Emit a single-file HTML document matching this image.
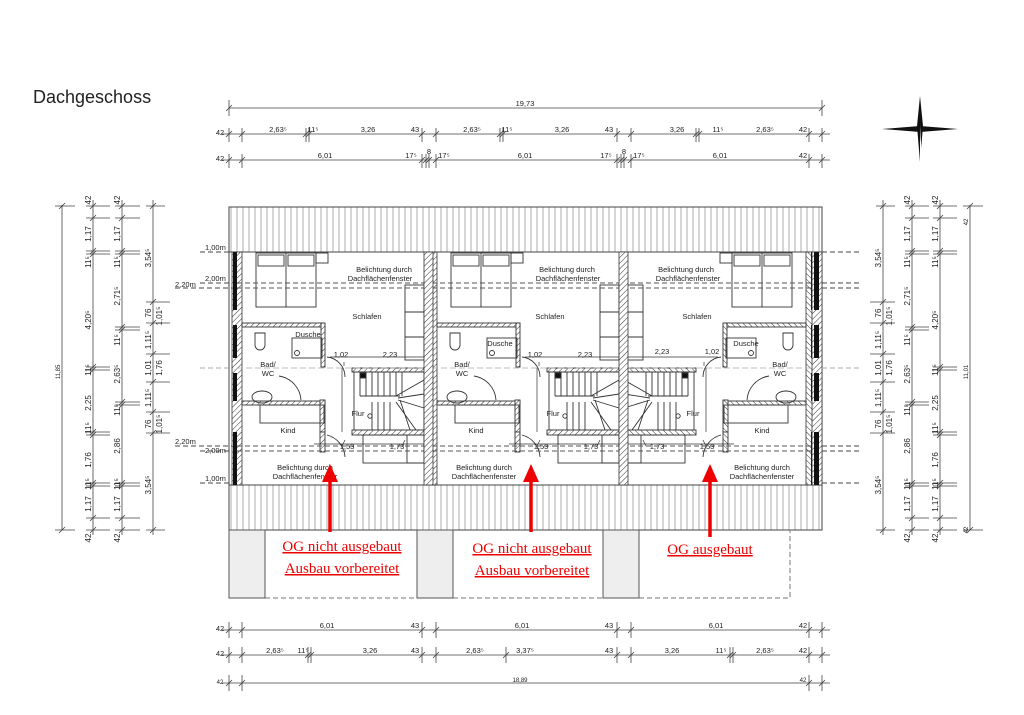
<!DOCTYPE html>
<html><head><meta charset="utf-8"><style>
html,body{margin:0;padding:0;background:#fff;width:1024px;height:715px;overflow:hidden}
svg{display:block}
text{font-family:"Liberation Sans",sans-serif;fill:#222}
.s{font-size:7.5px}
.m{font-size:8px}
.r{font-family:"Liberation Serif",serif;fill:#e00;font-size:15px;text-decoration:underline}
</style></head><body>
<svg width="1024" height="715" viewBox="0 0 1024 715" xmlns="http://www.w3.org/2000/svg">
<defs>
<pattern id="vh" width="6" height="10" patternUnits="userSpaceOnUse"><rect width="6" height="10" fill="#fff"/><line x1="3" y1="0" x2="3" y2="10" stroke="#999" stroke-width="0.8"/></pattern>
<pattern id="dh" width="4" height="4" patternUnits="userSpaceOnUse" patternTransform="rotate(45)"><rect width="4" height="4" fill="#fff"/><line x1="0" y1="0" x2="0" y2="4" stroke="#333" stroke-width="1"/></pattern>
<g id="unit">
 <!-- outer wall -->
 <rect x="232" y="252" width="10" height="233" fill="url(#dh)" stroke="#333" stroke-width="0.8"/>
 <rect x="233" y="252" width="4" height="58" fill="#111"/>
 <rect x="233" y="325" width="4" height="33" fill="#111"/>
 <rect x="233" y="373" width="4" height="28" fill="#111"/>
 <rect x="233" y="432" width="4" height="53" fill="#111"/>
 <!-- bed -->
 <g fill="none" stroke="#333" stroke-width="0.9">
 <rect x="256" y="253" width="60" height="54"/>
 <line x1="286" y1="253" x2="286" y2="307"/>
 <rect x="258" y="255" width="26" height="11"/><rect x="288" y="255" width="26" height="11"/>
 <rect x="316" y="253" width="12" height="10"/>
 <!-- bath walls -->
 <rect x="242" y="323" width="83" height="4" fill="url(#dh)"/>
 <rect x="321" y="323" width="4" height="44" fill="url(#dh)"/>
 <rect x="242" y="401" width="83" height="4" fill="url(#dh)"/>
 <rect x="320" y="400" width="5" height="32" fill="url(#dh)"/>
 <rect x="320" y="432" width="5" height="20" fill="url(#dh)"/>
 <rect x="292" y="338" width="30" height="20"/>
 <circle cx="297" cy="353" r="2.5"/>
 <path d="M255 333 v12 a5 5 0 0 0 10 0 v-12 z"/>
 <ellipse cx="262" cy="397" rx="10" ry="6"/>
 <path d="M301 400 a26 26 0 0 0 -22 -24"/>
 <rect x="260" y="405" width="64" height="18"/>
 <!-- doors -->
 <path d="M327 357 a20 20 0 0 1 18 20"/>
 <path d="M327 435 a24 24 0 0 1 18 22"/>
 <!-- stairs -->
 <rect x="352" y="368" width="72" height="4" fill="url(#dh)"/>
 <rect x="354" y="372" width="70" height="58"/>
 <path d="M360 372v24M366 372v24M372 372v24M378 372v24M384 372v24M390 372v24M396 372v24M402 372v24 M360 396h40 M372 402v28M378 402v28M384 402v28M390 402v28 M396 396l28 -16M398 398l26 -4M398 400l26 8M396 402l20 28M400 400l10 30"/>
 <rect x="360" y="373" width="6" height="5" fill="#111"/>
 <circle cx="370" cy="416" r="2.2"/>
 <rect x="352" y="430" width="72" height="5" fill="url(#dh)"/>
 <rect x="363" y="435" width="61" height="28"/>
 <rect x="407" y="435" width="17" height="28"/>
 <!-- cabinet -->
 <rect x="405" y="285" width="19" height="75"/>
 <line x1="405" y1="312" x2="424" y2="312"/><line x1="405" y1="337" x2="424" y2="337"/>
 </g>
 <g stroke="#333" stroke-width="0.7" fill="none">
 <path d="M330 357 H424 M344 362 V366"/>
 <path d="M314 444 H424 M345 440l-3 6 M405 440l-3 6"/>
 <path d="M342 368 V432"/>
 </g>
 <g stroke="#555" stroke-width="0.9" stroke-dasharray="5,3" fill="none">
 <path d="M237 283 H424 M237 288 H424 M237 446 H424 M237 451 H424"/>
 </g>
 <path d="M237 368 H424" stroke="#aaa" stroke-width="0.8" stroke-dasharray="6,3" fill="none"/>
</g>
</defs>

<text x="33" y="103" style="font-size:18px">Dachgeschoss</text>

<!-- roof bands -->
<rect x="229" y="207" width="593" height="45" fill="url(#vh)" stroke="#444" stroke-width="1"/>
<rect x="229" y="485" width="593" height="45" fill="url(#vh)" stroke="#444" stroke-width="1"/>
<rect x="229" y="252" width="593" height="233" fill="#fff" stroke="#444" stroke-width="1"/>

<use href="#unit"/>
<use href="#unit" transform="translate(195,0)"/>
<use href="#unit" transform="matrix(-1,0,0,1,1048,0)"/>
<rect x="424" y="252" width="9" height="233" fill="url(#dh)" stroke="#333" stroke-width="0.8"/>
<rect x="619" y="252" width="9" height="233" fill="url(#dh)" stroke="#333" stroke-width="0.8"/>
<rect x="812" y="252" width="10" height="233" fill="url(#dh)" stroke="#333" stroke-width="0.8"/>
<rect x="814" y="252" width="5" height="58" fill="#111"/><rect x="814" y="325" width="5" height="33" fill="#111"/><rect x="814" y="373" width="5" height="28" fill="#111"/><rect x="814" y="432" width="5" height="53" fill="#111"/>

<!-- level lines outside -->
<g stroke="#444" stroke-width="0.9" stroke-dasharray="5,3" fill="none">
<path d="M200 252H232 M200 283H232 M175 288H232 M175 446H232 M200 451H232 M200 483H232"/>
<path d="M822 252H860 M822 283H860 M822 288H860 M822 446H860 M822 451H860 M822 483H860"/>
<path d="M200 368H232 M822 368H860" stroke="#aaa"/>
</g>
<g class="s"><text x="205" y="250">1,00m</text><text x="205" y="281">2,00m</text><text x="175" y="287">2,20m</text><text x="175" y="444">2,20m</text><text x="205" y="453">2,00m</text><text x="205" y="481">1,00m</text></g>

<!-- room labels -->
<g class="s" text-anchor="middle">
<text x="384" y="272">Belichtung durch</text><text x="380" y="281">Dachflächenfenster</text>
<text x="567" y="272">Belichtung durch</text><text x="568" y="281">Dachflächenfenster</text>
<text x="686" y="272">Belichtung durch</text><text x="688" y="281">Dachflächenfenster</text>
<text x="305" y="470">Belichtung durch</text><text x="305" y="479">Dachflächenfenster</text>
<text x="484" y="470">Belichtung durch</text><text x="484" y="479">Dachflächenfenster</text>
<text x="762" y="470">Belichtung durch</text><text x="762" y="479">Dachflächenfenster</text>
<text x="367" y="319">Schlafen</text><text x="550" y="319">Schlafen</text><text x="697" y="319">Schlafen</text>
<text x="268" y="367">Bad/</text><text x="268" y="376">WC</text>
<text x="462" y="367">Bad/</text><text x="462" y="376">WC</text>
<text x="780" y="367">Bad/</text><text x="780" y="376">WC</text>
<text x="288" y="433">Kind</text><text x="476" y="433">Kind</text><text x="762" y="433">Kind</text>
<text x="358" y="416">Flur</text><text x="553" y="416">Flur</text><text x="693" y="416">Flur</text>
<text x="308" y="337">Dusche</text><text x="500" y="346">Dusche</text><text x="746" y="346">Dusche</text>
<text x="341" y="357">1,02</text><text x="390" y="357">2,23</text>
<text x="535" y="357">1,02</text><text x="585" y="357">2,23</text>
<text x="662" y="354">2,23</text><text x="712" y="354">1,02</text>
<text x="347" y="449">1,53</text><text x="397" y="449">1,73</text>
<text x="541" y="449">1,53</text><text x="591" y="449">1,73</text>
<text x="657" y="449">1,73</text><text x="707" y="449">1,53</text>
</g>

<!-- bottom boxes -->
<rect x="229" y="530" width="36" height="68" fill="#eee" stroke="#555"/>
<rect x="417" y="530" width="36" height="68" fill="#eee" stroke="#555"/>
<rect x="603" y="530" width="36" height="68" fill="#eee" stroke="#555"/>
<g fill="none" stroke="#777" stroke-dasharray="5,3"><path d="M265 598H417 M453 598H603 M639 598H790V530"/></g>
<path d="M265 530V598 M453 530V598" stroke="#555"/>

<!-- red arrows -->
<g stroke="#e00" stroke-width="3.5" fill="#e00">
<line x1="330" y1="532" x2="330" y2="478"/><line x1="531" y1="532" x2="531" y2="478"/><line x1="710" y1="537" x2="710" y2="478"/>
</g>
<g fill="#e00"><path d="M322 482 L330 464 L338 482Z"/><path d="M523 482 L531 464 L539 482Z"/><path d="M702 482 L710 464 L718 482Z"/></g>
<text class="r" x="342" y="551" text-anchor="middle">OG nicht ausgebaut</text>
<text class="r" x="342" y="573" text-anchor="middle">Ausbau vorbereitet</text>
<text class="r" x="532" y="553" text-anchor="middle">OG nicht ausgebaut</text>
<text class="r" x="532" y="575" text-anchor="middle">Ausbau vorbereitet</text>
<text class="r" x="710" y="554" text-anchor="middle">OG ausgebaut</text>

<!-- compass -->
<g fill="#111"><path d="M920 96 L923 126 L920 162 L917 126Z"/><path d="M882 129 L920 126 L958 129 L920 132Z"/></g>
<path d="M920 126 L922 160 L920 162Z M920 126 L956 129Z" fill="#fff"/>

<!-- top dims -->
<g stroke="#444" stroke-width="0.8" fill="none">
<path d="M229 108H822 M229 100V116 M822 100V116 M226 111l6-6 M819 111l6-6"/>
<path d="M222 134H830 M229 128V142 M242 128V142 M306 128V142 M309 128V142 M422 128V142 M436 128V142 M500 128V142 M503 128V142 M617 128V142 M631 128V142 M696 128V142 M699 128V142 M809 128V142 M822 128V142"/>
<path d="M226 137l6-6M239 137l6-6M303 137l6-6M306 137l6-6M419 137l6-6M433 137l6-6M497 137l6-6M500 137l6-6M614 137l6-6M628 137l6-6M693 137l6-6M696 137l6-6M806 137l6-6M819 137l6-6"/>
<path d="M222 160H830 M229 154V168 M242 154V168 M422 154V168 M426 154V168 M429 154V168 M436 154V168 M617 154V168 M621 154V168 M624 154V168 M631 154V168 M809 154V168 M822 154V168"/>
<path d="M226 163l6-6M239 163l6-6M419 163l6-6M423 163l6-6M426 163l6-6M433 163l6-6M614 163l6-6M618 163l6-6M621 163l6-6M628 163l6-6M806 163l6-6M819 163l6-6"/>
</g>
<g class="s" text-anchor="middle">
<text x="525" y="106">19,73</text>
<text x="220" y="135">42</text><text x="278" y="132">2,63⁵</text><text x="313" y="132">11⁵</text><text x="368" y="132">3,26</text><text x="415" y="132">43</text><text x="472" y="132">2,63⁵</text><text x="507" y="132">11⁵</text><text x="562" y="132">3,26</text><text x="609" y="132">43</text><text x="677" y="132">3,26</text><text x="718" y="132">11⁵</text><text x="765" y="132">2,63⁵</text><text x="803" y="132">42</text>
<text x="220" y="161">42</text><text x="325" y="158">6,01</text><text x="411" y="158">17⁵</text><text x="429" y="154">8</text><text x="444" y="158">17⁵</text><text x="525" y="158">6,01</text><text x="606" y="158">17⁵</text><text x="624" y="154">8</text><text x="639" y="158">17⁵</text><text x="720" y="158">6,01</text><text x="803" y="158">42</text>
</g>

<!-- bottom dims -->
<g stroke="#444" stroke-width="0.8" fill="none">
<path d="M222 630H830 M229 622V638 M242 622V638 M422 622V638 M436 622V638 M617 622V638 M631 622V638 M809 622V638 M822 622V638"/>
<path d="M226 633l6-6M239 633l6-6M419 633l6-6M433 633l6-6M614 633l6-6M628 633l6-6M806 633l6-6M819 633l6-6"/>
<path d="M222 655H830 M229 647V663 M242 647V663 M308 647V663 M311 647V663 M422 647V663 M436 647V663 M506 647V663 M617 647V663 M631 647V663 M730 647V663 M733 647V663 M809 647V663 M822 647V663"/>
<path d="M226 658l6-6M239 658l6-6M305 658l6-6M308 658l6-6M419 658l6-6M433 658l6-6M503 658l6-6M614 658l6-6M628 658l6-6M727 658l6-6M730 658l6-6M806 658l6-6M819 658l6-6"/>
<path d="M222 683H830 M229 675V691 M242 675V691 M809 675V691 M822 675V691 M226 686l6-6M239 686l6-6M806 686l6-6M819 686l6-6"/>
</g>
<g class="s" text-anchor="middle">
<text x="220" y="631">42</text><text x="327" y="628">6,01</text><text x="415" y="628">43</text><text x="522" y="628">6,01</text><text x="609" y="628">43</text><text x="716" y="628">6,01</text><text x="803" y="628">42</text>
<text x="220" y="656">42</text><text x="275" y="653">2,63⁵</text><text x="303" y="653">11⁵</text><text x="370" y="653">3,26</text><text x="415" y="653">43</text><text x="475" y="653">2,63⁵</text><text x="525" y="653">3,37⁵</text><text x="609" y="653">43</text><text x="672" y="653">3,26</text><text x="721" y="653">11⁵</text><text x="765" y="653">2,63⁵</text><text x="803" y="653">42</text>
<text x="220" y="684" style="font-size:6px">42</text><text x="520" y="682" style="font-size:6px">18,89</text><text x="803" y="682" style="font-size:6px">42</text>
</g>

<!-- side dims -->
<g stroke="#444" stroke-width="0.8" fill="none">
<path d="M62 205V530 M55 206H75 M55 530H75 M59 209l6-6 M59 533l6-6"/>
<path d="M93 200V535 M86 206H110 M86 218H110 M86 251H110 M86 254H110 M86 367H110 M86 370H110 M86 432H110 M86 435H110 M86 483H110 M86 486H110 M86 518H110 M86 530H110"/>
<path d="M90 209l6-6M90 221l6-6M90 254l6-6M90 257l6-6M90 370l6-6M90 373l6-6M90 435l6-6M90 438l6-6M90 486l6-6M90 489l6-6M90 521l6-6M90 533l6-6"/>
<path d="M122 200V535 M115 206H140 M115 218H140 M115 251H140 M115 254H140 M115 327H140 M115 330H140 M115 402H140 M115 405H140 M115 483H140 M115 486H140 M115 518H140 M115 530H140"/>
<path d="M119 209l6-6M119 221l6-6M119 254l6-6M119 257l6-6M119 330l6-6M119 333l6-6M119 405l6-6M119 408l6-6M119 486l6-6M119 489l6-6M119 521l6-6M119 533l6-6"/>
<path d="M153 200V535 M146 206H165 M146 302H170 M146 323H170 M146 354H170 M146 382H170 M146 412H170 M146 433H170 M146 530H165"/>
<path d="M150 209l6-6M150 305l6-6M150 326l6-6M150 357l6-6M150 385l6-6M150 415l6-6M150 436l6-6M150 533l6-6"/>
<path d="M970 205V530 M963 206H983 M963 530H983 M967 209l6-6 M967 533l6-6"/>
<path d="M940 200V535 M933 206H957 M933 218H957 M933 251H957 M933 254H957 M933 367H957 M933 370H957 M933 432H957 M933 435H957 M933 483H957 M933 486H957 M933 518H957 M933 530H957"/>
<path d="M937 209l6-6M937 221l6-6M937 254l6-6M937 257l6-6M937 370l6-6M937 373l6-6M937 435l6-6M937 438l6-6M937 486l6-6M937 489l6-6M937 521l6-6M937 533l6-6"/>
<path d="M912 200V535 M905 206H929 M905 218H929 M905 251H929 M905 254H929 M905 327H929 M905 330H929 M905 402H929 M905 405H929 M905 483H929 M905 486H929 M905 518H929 M905 530H929"/>
<path d="M909 209l6-6M909 221l6-6M909 254l6-6M909 257l6-6M909 330l6-6M909 333l6-6M909 405l6-6M909 408l6-6M909 486l6-6M909 489l6-6M909 521l6-6M909 533l6-6"/>
<path d="M883 200V535 M876 206H895 M870 302H895 M870 323H895 M870 354H895 M870 382H895 M870 412H895 M870 433H895 M876 530H895"/>
<path d="M880 209l6-6M880 305l6-6M880 326l6-6M880 357l6-6M880 385l6-6M880 415l6-6M880 436l6-6M880 533l6-6"/>
</g>
<g class="s" text-anchor="middle">
<text transform="translate(60,372) rotate(-90)" style="font-size:6px">11,85</text>
<text transform="translate(968,372) rotate(-90)" style="font-size:6px">11,01</text>
<text transform="translate(968,222) rotate(-90)" style="font-size:6px">42</text>
<text transform="translate(968,530) rotate(-90)" style="font-size:6px">42</text>
</g>
<g class="m" text-anchor="middle">
<!-- col x93 left / x940 right -->
<g id="c1">
<text transform="translate(91,200) rotate(-90)">42</text>
<text transform="translate(91,234) rotate(-90)">1,17</text>
<text transform="translate(91,262) rotate(-90)">11⁵</text>
<text transform="translate(91,320) rotate(-90)">4,20⁵</text>
<text transform="translate(91,370) rotate(-90)">11⁵</text>
<text transform="translate(91,403) rotate(-90)">2,25</text>
<text transform="translate(91,428) rotate(-90)">11⁵</text>
<text transform="translate(91,460) rotate(-90)">1,76</text>
<text transform="translate(91,484) rotate(-90)">11⁵</text>
<text transform="translate(91,504) rotate(-90)">1,17</text>
<text transform="translate(91,538) rotate(-90)">42</text>
</g>
<use href="#c1" transform="translate(847,0)"/>
<g id="c2">
<text transform="translate(120,200) rotate(-90)">42</text>
<text transform="translate(120,234) rotate(-90)">1,17</text>
<text transform="translate(120,262) rotate(-90)">11⁵</text>
<text transform="translate(120,296) rotate(-90)">2,71⁵</text>
<text transform="translate(120,340) rotate(-90)">11⁵</text>
<text transform="translate(120,374) rotate(-90)">2,63⁵</text>
<text transform="translate(120,410) rotate(-90)">11⁵</text>
<text transform="translate(120,446) rotate(-90)">2,86</text>
<text transform="translate(120,484) rotate(-90)">11⁵</text>
<text transform="translate(120,504) rotate(-90)">1,17</text>
<text transform="translate(120,538) rotate(-90)">42</text>
</g>
<use href="#c2" transform="translate(790,0)"/>
<g id="c3">
<text transform="translate(151,258) rotate(-90)">3,54⁵</text>
<text transform="translate(151,313) rotate(-90)">76</text>
<text transform="translate(162,316) rotate(-90)">1,01⁵</text>
<text transform="translate(151,340) rotate(-90)">1,11⁵</text>
<text transform="translate(151,368) rotate(-90)">1,01</text>
<text transform="translate(162,368) rotate(-90)">1,76</text>
<text transform="translate(151,398) rotate(-90)">1,11⁵</text>
<text transform="translate(151,424) rotate(-90)">76</text>
<text transform="translate(162,424) rotate(-90)">1,01⁵</text>
<text transform="translate(151,485) rotate(-90)">3,54⁵</text>
</g>
<use href="#c3" transform="translate(730,0)"/>
</g>
</svg>
</body></html>
